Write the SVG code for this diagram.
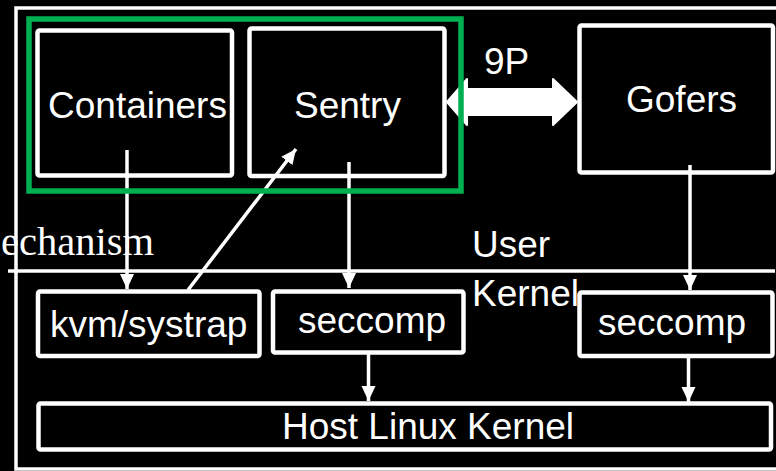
<svg xmlns="http://www.w3.org/2000/svg" width="776" height="471" viewBox="0 0 776 471">
  <defs>
    <style>
      .box { fill: #000; stroke: #fff; stroke-width: 4.5; }
      .lbl { fill: #fff; font-family: "Liberation Sans", Arial, sans-serif; font-size: 37px; }
      .serif { fill: #fff; font-family: "Liberation Serif", "Times New Roman", serif; font-size: 40.5px; }
      .wire { stroke: #fff; stroke-width: 3.5; fill: none; }
    </style>
    <marker id="head" markerUnits="userSpaceOnUse" markerWidth="16" markerHeight="15" refX="15" refY="7" orient="auto">
      <path d="M0,0 L15,7 L0,14 z" fill="#fff"/>
    </marker>
  </defs>

  <!-- canvas -->
  <rect x="0" y="0" width="776" height="471" fill="#000"/>

  <!-- outer frame -->
  <rect x="16" y="8" width="800" height="461" fill="none" stroke="#fff" stroke-width="3.5"/>

  <!-- user / kernel boundary -->
  <g id="boundary">
    <line class="wire" x1="8" y1="271" x2="775" y2="271"/>
    <text class="serif" x="1" y="255">echanism</text>
    <text class="lbl" x="472" y="257">User</text>
    <text class="lbl" x="472" y="306">Kernel</text>
  </g>

  <g id="containers">
    <rect class="box" x="37.5" y="30.5" width="194.5" height="145" rx="2"/>
    <text class="lbl" x="48" y="118">Containers</text>
  </g>

  <g id="sentry">
    <rect class="box" x="249.5" y="28.5" width="195" height="147.5" rx="2"/>
    <text class="lbl" x="294" y="118">Sentry</text>
  </g>

  <g id="gofers">
    <rect class="box" x="579.5" y="25.5" width="193.5" height="147" rx="2"/>
    <text class="lbl" x="626" y="112">Gofers</text>
  </g>

  <g id="kvm-systrap">
    <rect class="box" x="38" y="291.5" width="221.5" height="64.5" rx="2"/>
    <text class="lbl" x="50" y="337">kvm/systrap</text>
  </g>

  <g id="seccomp-sentry">
    <rect class="box" x="273" y="291.5" width="190.5" height="61" rx="2"/>
    <text class="lbl" x="298" y="333">seccomp</text>
  </g>

  <g id="seccomp-gofers">
    <rect class="box" x="579.5" y="292.5" width="193" height="63.5" rx="2"/>
    <text class="lbl" x="598" y="335">seccomp</text>
  </g>

  <g id="host-kernel">
    <rect class="box" x="38.5" y="403.5" width="732.5" height="46" rx="2"/>
    <text class="lbl" x="282" y="439">Host Linux Kernel</text>
  </g>

  <!-- connectors -->
  <g id="connectors">
    <polygon points="447,102 467,79 467,89 553,89 553,79 577,102 553,125 553,115 467,115 467,125" fill="#fff" stroke="#fff" stroke-width="2" stroke-linejoin="round"/>
    <text class="lbl" x="484" y="74">9P</text>
    <line class="wire" x1="127" y1="150" x2="127" y2="289" marker-end="url(#head)"/>
    <line class="wire" x1="188" y1="290" x2="296" y2="149" marker-end="url(#head)"/>
    <line class="wire" x1="349" y1="162" x2="349" y2="288" marker-end="url(#head)"/>
    <line class="wire" x1="690" y1="165" x2="690" y2="290" marker-end="url(#head)"/>
    <line class="wire" x1="368.5" y1="354" x2="368.5" y2="401" marker-end="url(#head)"/>
    <line class="wire" x1="688.5" y1="357" x2="688.5" y2="402" marker-end="url(#head)"/>
  </g>

  <!-- sandbox boundary around Containers and Sentry -->
  <g id="sandbox">
    <rect x="29" y="19" width="432" height="172" fill="none" stroke="#00b050" stroke-width="5.5"/>
  </g>
</svg>
